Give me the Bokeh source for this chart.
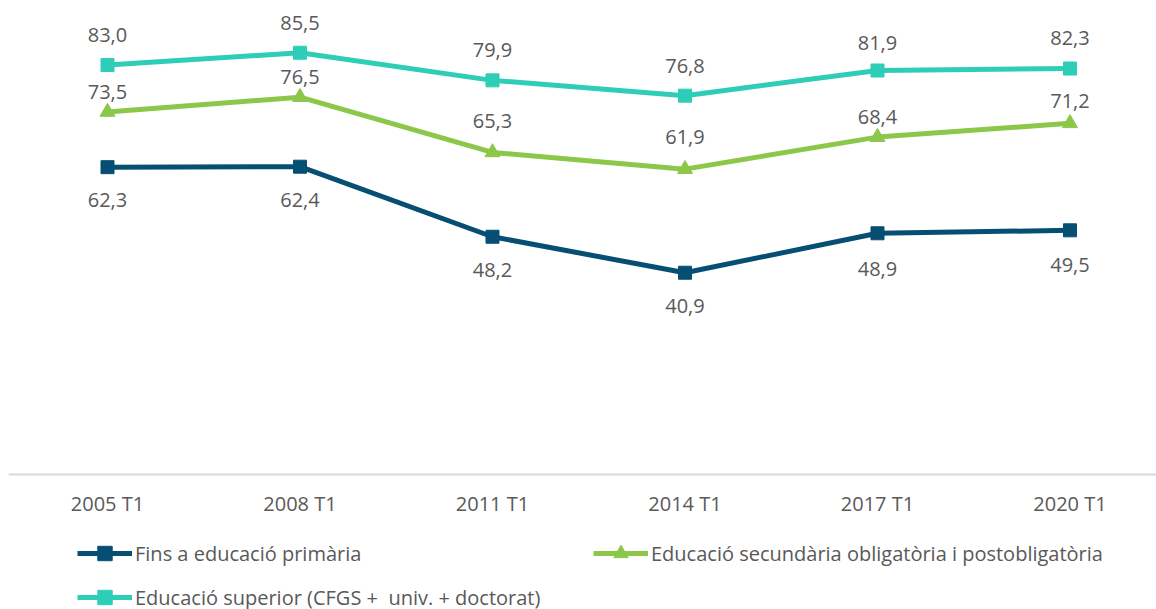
from bokeh.plotting import figure
from bokeh.models import (ColumnDataSource, Range1d, FixedTicker, LabelSet,
                          Legend, LegendItem)
from bokeh.embed import file_html
from bokeh.resources import INLINE
from bokeh.core.properties import value

periods = ["2005 T1", "2008 T1", "2011 T1", "2014 T1", "2017 T1", "2020 T1"]
primaria = [62.3, 62.4, 48.2, 40.9, 48.9, 49.5]
secundaria = [73.5, 76.5, 65.3, 61.9, 68.4, 71.2]
superior = [83.0, 85.5, 79.9, 76.8, 81.9, 82.3]
names = ["Fins a educació primària",
         "Educació secundària obligatòria i postobligatòria",
         "Educació superior (CFGS +  univ. + doctorat)"]

# label offsets (screen px), styling only
off_prim = [-33, -33, -33, -33, -36, -35]
off_sec = [20, 20, 31, 32, 20, 22]
off_sup = [30, 30, 30, 30, 28, 31]

GRAY = "#595959"
colors = ["#064F73", "#8CC74A", "#2ECDB8"]

p = figure(frame_width=1148, frame_height=601, output_backend="svg",
           toolbar_location=None, x_range=Range1d(-0.5143, 5.4494),
           y_range=Range1d(-27.37, 94.47), min_border_left=8, min_border_right=0,
           min_border_top=8, min_border_bottom=0)
p.outline_line_color = None
p.grid.visible = False
p.yaxis.visible = False
p.background_fill_color = "white"
p.border_fill_color = "white"

xs = list(range(len(periods)))
p.xaxis.fixed_location = 0
p.xaxis.ticker = FixedTicker(ticks=xs)
p.xaxis.major_label_overrides = {i: s for i, s in enumerate(periods)}
p.xaxis.major_tick_line_color = None
p.xaxis.minor_tick_line_color = None
p.xaxis.axis_line_color = "#D9D9D9"
p.xaxis.axis_line_width = 2
p.xaxis.major_label_text_font = "Open Sans"
p.xaxis.major_label_text_font_size = "20px"
p.xaxis.major_label_text_color = GRAY
p.xaxis.major_label_standoff = 10

items = []
series = [(primaria, off_prim, "square", 13), (secundaria, off_sec, "triangle", 15),
          (superior, off_sup, "square", 13)]
for (vals, offs, marker, size), col, name in zip(series, colors, names):
    src = ColumnDataSource(dict(x=xs, y=vals, lab=[f"{v:.1f}".replace(".", ",") for v in vals],
                                off=offs))
    ln = p.line("x", "y", source=src, line_color=col, line_width=5)
    sc = p.scatter("x", "y", source=src, marker=marker, size=size, fill_color=col,
                   line_color=col)
    p.add_layout(LabelSet(x="x", y="y", text="lab", source=src, y_offset="off",
                          text_align="center", text_baseline="middle",
                          text_font=value("Open Sans"), text_font_size="20px",
                          text_color=GRAY))
    items.append(LegendItem(label=name, renderers=[ln, sc]))

legend = Legend(items=items, orientation="horizontal", ncols=2,
                location=(69, -6), margin=0, padding=0,
                border_line_color=None, background_fill_alpha=0,
                glyph_width=55, glyph_height=36, label_standoff=3,
                spacing=8, label_width=450, label_height=20,
                label_text_font="Open Sans", label_text_font_size="20px",
                label_text_color=GRAY)
p.add_layout(legend, "center")

open("out.html", "w").write(file_html(p, INLINE))
